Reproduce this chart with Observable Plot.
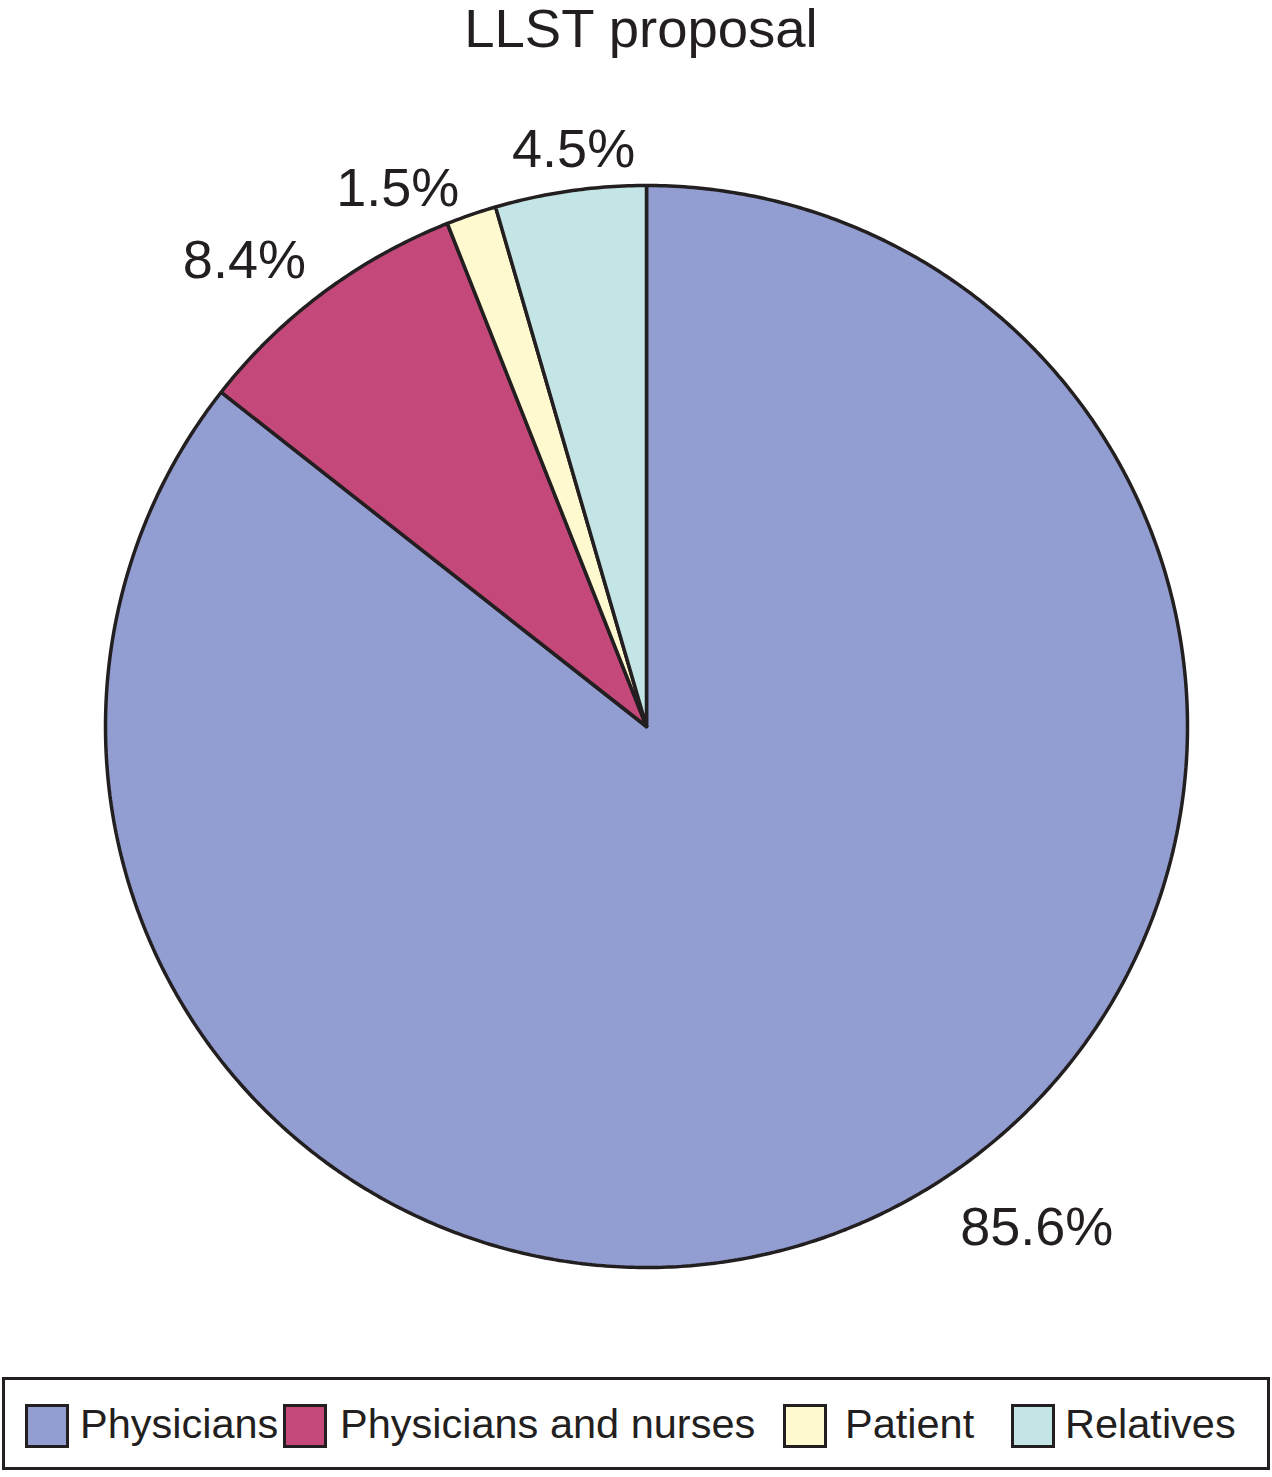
<!DOCTYPE html>
<html>
<head>
<meta charset="utf-8">
<script src="https://cdn.jsdelivr.net/npm/d3@7"></script>
<script src="https://cdn.jsdelivr.net/npm/@observablehq/plot@0.6"></script>
<style>
  body { margin: 0; background: #fff; font-family: "Liberation Sans", Arial, sans-serif; color: #231f20; }
  #title { height: 80px; box-sizing: border-box; padding-top: 2px; padding-left: 10px; font-size: 54.5px; line-height: 53px; text-align: center; }
  #chart svg { display: block; }
  #legend { position: relative; margin: 7px 0 0 2px; width: 1268px; height: 93px; box-sizing: border-box; border: 3px solid #231f20; }
  .sw { position: absolute; top: 24px; width: 44px; height: 44px; box-sizing: border-box; border: 3px solid #231f20; }
  .lt { position: absolute; top: 24px; font-size: 41.5px; line-height: 40px; white-space: nowrap; }
</style>
</head>
<body>
<div id="title">LLST proposal</div>
<div id="chart"></div>
<div id="legend"></div>
<script>
const categories = ["Physicians", "Physicians and nurses", "Patient", "Relatives"];
const shares = [85.6, 8.4, 1.5, 4.5];
const labels = ["85.6%", "8.4%", "1.5%", "4.5%"];
const colors = ["#929ed1", "#c5487b", "#fef9ce", "#c4e5e6"];

// layout constants (pixels)
const W = 1272, H = 1290, CX = 646, CY = 646, R = 541;
const labelRadius = [1.174, 1.137, 1.096, 1.075];
const labelShiftDeg = [-12.0, -4.1, -5.9, 0.9];
const legendSwatchX = [20, 278, 778, 1006];
const legendTextX = [75, 335, 840, 1060];

// build slice outlines (clockwise from 12 o'clock) in unit coordinates
const total = d3.sum(shares);
const outline = [];
const labelData = [];
let acc = 0;
categories.forEach((cat, i) => {
  const a0 = acc / total * 2 * Math.PI;
  acc += shares[i];
  const a1 = acc / total * 2 * Math.PI;
  outline.push({cat, x: 0, y: 0});
  const n = Math.max(2, Math.ceil((a1 - a0) / (Math.PI / 360)));
  for (let k = 0; k <= n; k++) {
    const a = a0 + (a1 - a0) * k / n;
    outline.push({cat, x: Math.sin(a), y: Math.cos(a)});
  }
  outline.push({cat, x: 0, y: 0});
  const am = (a0 + a1) / 2 + labelShiftDeg[i] * Math.PI / 180;
  labelData.push({cat, text: labels[i], x: labelRadius[i] * Math.sin(am), y: labelRadius[i] * Math.cos(am)});
});

const chart = Plot.plot({
  width: W,
  height: H,
  margin: 0,
  x: {domain: [-CX / R, (W - CX) / R], axis: null},
  y: {domain: [-(H - CY) / R, CY / R], axis: null},
  color: {domain: categories, range: colors},
  marks: [
    Plot.line(outline, {x: "x", y: "y", z: "cat", fill: "cat", stroke: "#231f20", strokeWidth: 3.5, strokeLinejoin: "miter", curve: "linear"}),
    Plot.text(labelData, {x: "x", y: "y", text: "text", fontSize: 54, fill: "#231f20", textAnchor: "middle", lineAnchor: "middle", fontFamily: "Liberation Sans, Arial, sans-serif"})
  ]
});
chart.style.fontFamily = "Liberation Sans, Arial, sans-serif";
document.getElementById("chart").append(chart);

const legend = document.getElementById("legend");
categories.forEach((cat, i) => {
  const sw = document.createElement("div");
  sw.className = "sw";
  sw.style.left = legendSwatchX[i] + "px";
  sw.style.background = colors[i];
  legend.append(sw);
  const t = document.createElement("div");
  t.className = "lt";
  t.style.left = legendTextX[i] + "px";
  t.textContent = cat;
  legend.append(t);
});
</script>
</body>
</html>
